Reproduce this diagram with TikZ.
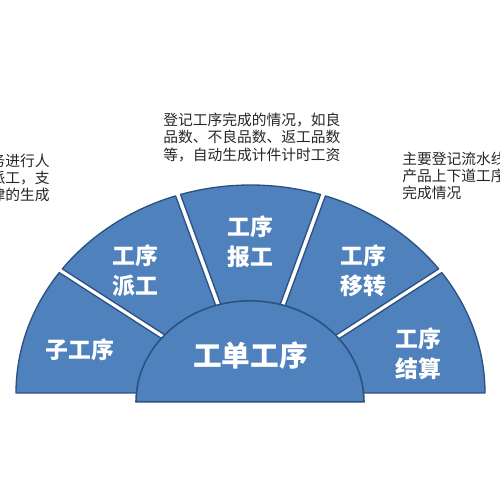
\documentclass[tikz,border=0pt]{standalone}
\usepackage{fontspec}
\usepackage{tikz}
\newfontfamily\cjk{Noto Sans CJK SC}
\definecolor{fanFill}{HTML}{4F81BD}
\definecolor{fanLine}{HTML}{2B5180}
\definecolor{noteText}{HTML}{262626}
\tikzset{
  seg/.style={fill=fanFill, draw=fanLine, line width=0.75pt, line join=round},
  hub/.style={seg, line width=0.9pt},
  seglabel/.style={text=white, font=\cjk\bfseries\fontsize{13}{17}\selectfont, align=center, inner sep=0pt},
  hublabel/.style={seglabel, font=\cjk\bfseries\fontsize{16.3}{20}\selectfont},
  note/.style={text=noteText, font=\cjk\fontsize{8.4}{9.9}\selectfont, inner sep=0pt}
}

\begin{document}
\begin{tikzpicture}[x=0.2mm, y=0.2mm]
  \useasboundingbox (0,0) rectangle (500,500);
  \clip (0,0) rectangle (500,500);

  % fan of five segments, then the half disc on top
  \begin{scope}[shift={(250.5,107)}, yscale=0.887]
    \filldraw[seg] (148.95:30) -- (144.635:234.5) arc[start angle=144.635, end angle=180, radius=234.5] -- (180:30) -- cycle;
    \filldraw[seg] (112.95:30) -- (108.635:234.5) arc[start angle=108.635, end angle=143.365, radius=234.5] -- (139.05:30) -- cycle;
    \filldraw[seg] (76.95:30) -- (72.635:234.5) arc[start angle=72.635, end angle=107.365, radius=234.5] -- (103.05:30) -- cycle;
    \filldraw[seg] (40.95:30) -- (36.635:234.5) arc[start angle=36.635, end angle=71.365, radius=234.5] -- (67.05:30) -- cycle;
    \filldraw[seg] (0:30) -- (0:234.5) arc[start angle=0, end angle=35.365, radius=234.5] -- (31.05:30) -- cycle;
    \filldraw[hub] (-114.5,-10.1) arc[start angle=180, end angle=0, radius=114] -- cycle;
  \end{scope}

  \node[seglabel] (zigx) at (80,150) {子工序};
  \node[seglabel] (paig) at (135,229) {工序\\派工};
  \node[seglabel] (baog) at (250,258.5) {工序\\报工};
  \node[seglabel] (yizh) at (363.5,229) {工序\\移转};
  \node[seglabel] (jies) at (418.5,146.5) {工序\\结算};
  \node[hublabel] (gdgx) at (250.5,144.5) {工单工序};

  % notes
  \node[note, align=right, anchor=east] (notepai) at (50,322) {务进行人\\派工，支\\律的生成};
  \node[note, align=left, anchor=west] (notebao) at (163,362.5) {登记工序完成的情况，如良\\品数、不良品数、返工品数\\等，自动生成计件计时工资};
  \node[note, align=left, anchor=west] (noteyi) at (402,324) {主要登记流水线\\产品上下道工序\\完成情况};
\end{tikzpicture}
\end{document}
